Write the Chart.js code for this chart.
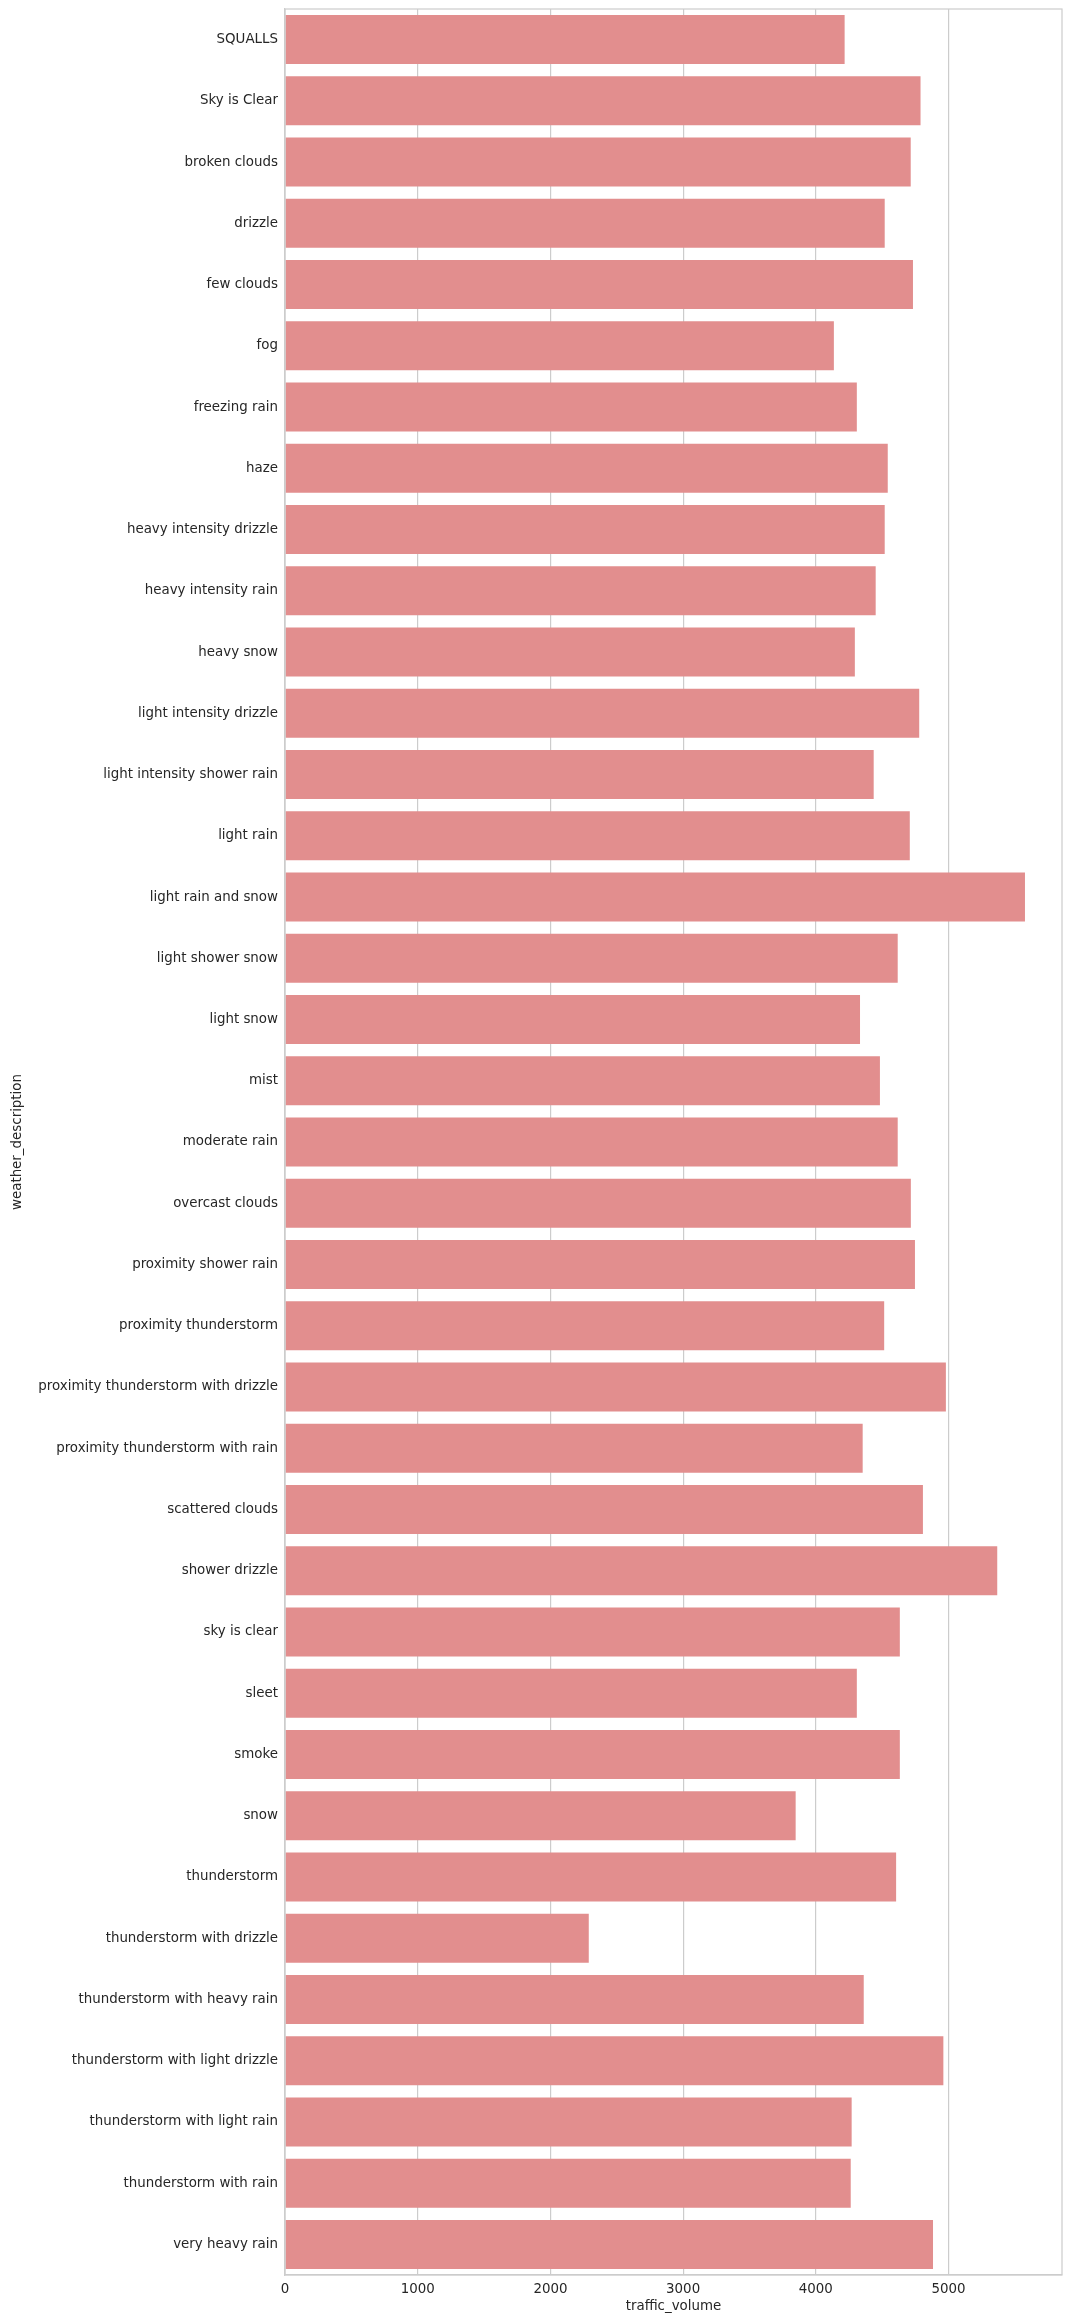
<!DOCTYPE html>
<html>
<head>
<meta charset="utf-8">
<script src="https://cdn.jsdelivr.net/npm/chart.js@4.4.0/dist/chart.umd.min.js"></script>
<style>
    html, body { margin: 0; padding: 0; background: #fff; }
    #wrap { width: 1068px; height: 2323px; }
</style>
</head>
<body>
<div id="wrap"><canvas id="weatherChart" width="1068" height="2323"></canvas></div>
<script>
const categories = [
    "SQUALLS",
    "Sky is Clear",
    "broken clouds",
    "drizzle",
    "few clouds",
    "fog",
    "freezing rain",
    "haze",
    "heavy intensity drizzle",
    "heavy intensity rain",
    "heavy snow",
    "light intensity drizzle",
    "light intensity shower rain",
    "light rain",
    "light rain and snow",
    "light shower snow",
    "light snow",
    "mist",
    "moderate rain",
    "overcast clouds",
    "proximity shower rain",
    "proximity thunderstorm",
    "proximity thunderstorm with drizzle",
    "proximity thunderstorm with rain",
    "scattered clouds",
    "shower drizzle",
    "sky is clear",
    "sleet",
    "smoke",
    "snow",
    "thunderstorm",
    "thunderstorm with drizzle",
    "thunderstorm with heavy rain",
    "thunderstorm with light drizzle",
    "thunderstorm with light rain",
    "thunderstorm with rain",
    "very heavy rain",
];

// traffic volume medio per descrizione meteo
const trafficVolume = [
    4217, 4789, 4715, 4519, 4732, 4136, 4309, 4542, 4519, 4451,
    4294, 4779, 4436, 4708, 5576, 4617, 4333, 4483, 4617, 4716,
    4747, 4515, 4980, 4353, 4807, 5367, 4633, 4309, 4633, 3848,
    4605, 2289, 4361, 4961, 4270, 4263, 4883,
];

const xTicks = [0, 1000, 2000, 3000, 4000, 5000];
const xMax = 5855;

const textColor = "#262626";
const gridColor = "#cccccc";
const fontFamily = "'DejaVu Sans', sans-serif";

// bordo attorno all'area del grafico (stile seaborn whitegrid)
const frameBorder = {
    id: "frameBorder",
    afterDatasetsDraw(chart) {
        const { ctx, chartArea } = chart;
        ctx.save();
        ctx.strokeStyle = gridColor;
        ctx.lineWidth = 1.2;
        ctx.strokeRect(chartArea.left, chartArea.top, chartArea.right - chartArea.left, chartArea.bottom - chartArea.top);
        ctx.restore();
    },
};

const ctx = document.getElementById("weatherChart").getContext("2d");

new Chart(ctx, {
    type: "bar",
    data: {
        labels: categories,
        datasets: [
            {
                label: "traffic_volume",
                data: trafficVolume,
                backgroundColor: "#e28e8e",
                borderWidth: 0,
                barPercentage: 0.8,
                categoryPercentage: 1.0,
            },
        ],
    },
    options: {
        indexAxis: "y",
        responsive: false,
        devicePixelRatio: 1,
        animation: false,
        layout: {
            padding: { top: 9, right: 6, left: 0, bottom: 0 },
        },
        plugins: {
            legend: { display: false },
            tooltip: { enabled: false },
        },
        scales: {
            x: {
                min: 0,
                max: xMax,
                afterBuildTicks(scale) {
                    scale.ticks = xTicks.map((v) => ({ value: v }));
                },
                afterFit(scale) {
                    scale.height = 48;
                },
                grid: {
                    color: gridColor,
                    lineWidth: 1.2,
                    drawTicks: false,
                },
                border: { color: gridColor, width: 1.2 },
                ticks: {
                    color: textColor,
                    padding: 6,
                    font: { family: fontFamily, size: 13.4 },
                    callback: (value) => String(value),
                },
                title: {
                    display: true,
                    text: "traffic_volume",
                    color: textColor,
                    padding: { top: 0, bottom: 8 },
                    font: { family: fontFamily, size: 13.4 },
                },
            },
            y: {
                afterFit(scale) {
                    scale.width = 285;
                    scale.paddingTop = 0;
                    scale.paddingBottom = 0;
                },
                grid: { display: false, drawTicks: false },
                border: { color: gridColor, width: 1.2 },
                ticks: {
                    color: textColor,
                    padding: 7,
                    autoSkip: false,
                    font: { family: fontFamily, size: 13.4 },
                },
                title: {
                    display: true,
                    text: "weather_description",
                    color: textColor,
                    padding: { top: 9, bottom: 0 },
                    font: { family: fontFamily, size: 13.4 },
                },
            },
        },
    },
    plugins: [frameBorder],
});
</script>
</body>
</html>
